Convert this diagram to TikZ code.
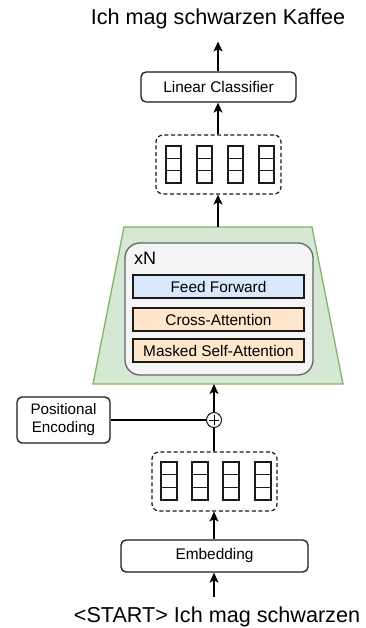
\documentclass[tikz,border=0pt]{standalone}
\usepackage{fontspec}
\setmainfont{Liberation Sans}
\usetikzlibrary{arrows.meta,shapes.geometric}
\definecolor{trapfill}{HTML}{D5E8D4}
\definecolor{trapline}{HTML}{82B366}
\definecolor{innerfill}{HTML}{F5F5F5}
\definecolor{innerline}{HTML}{666666}
\definecolor{bluefill}{HTML}{DAE8FC}
\definecolor{orangefill}{HTML}{FFE6CC}
\definecolor{boxline}{HTML}{1A1A1A}
\tikzset{
  rbox/.style={draw=boxline,line width=1.3pt,rounded corners=5pt,fill=white,inner sep=0pt,
    font=\fontsize{15.4}{18}\selectfont,align=center},
  layerbox/.style={draw=boxline,line width=1.3pt,inner sep=0pt,minimum width=171pt,minimum height=23pt,
    font=\fontsize{15.4}{18}\selectfont},
  dbox/.style={draw=boxline,line width=1.2pt,dash pattern=on 4pt off 2.6pt,rounded corners=7pt,
    minimum width=125pt,minimum height=59pt,inner sep=0pt},
  bigtext/.style={font=\fontsize{21.6}{24}\selectfont,inner sep=0pt},
  arr/.style={line width=1.3pt,-{Stealth[length=10pt,width=9pt,inset=2.5pt]}},
  ln/.style={line width=1.3pt},
  cell/.style={draw=boxline,line width=1.3pt}
}
\begin{document}
\begin{tikzpicture}[x=1pt,y=-1pt]
\useasboundingbox (0,0) rectangle (365,628);
% title
\node[bigtext] (out) at (218,19) {Ich mag schwarzen Kaffee};
% linear classifier
\node[rbox,minimum width=155pt,minimum height=30pt] (lin) at (218.5,87) {Linear Classifier};
\draw[arr] (lin.north -| 218,0) -- (218,41.5);
% upper dashed box
\node[dbox] (box1) at (218.5,164.5) {};
\foreach \xx in {166,197,228,259}{
  \foreach \k in {0,1,2}{
    \draw[cell] (\xx,146+12.33*\k) rectangle (\xx+15,146+12.33*\k+12.33);
  }
}
\draw[arr] (box1.north -| 218,0) -- (lin.south -| 218,0);
% trapezoid
\draw[fill=trapfill,draw=trapline,line width=1.3pt] (93,384) -- (124,227) -- (312,227) -- (343,384) -- cycle;
\coordinate (traptop) at (218,227);
\coordinate (trapbot) at (214,384);
\draw[arr] (traptop) -- (box1.south -| 218,0);
% inner block
\node[draw=innerline,fill=innerfill,line width=1.3pt,rounded corners=15pt,minimum width=188pt,minimum height=132pt,inner sep=0pt] (inner) at (219,309) {};
\node[font=\fontsize{18}{20}\selectfont,inner sep=0pt,anchor=west] (xn) at (134,258) {xN};
\node[layerbox,fill=bluefill] (ff) at (218.5,286.5) {Feed Forward};
\node[layerbox,fill=orangefill] (ca) at (218.5,319.5) {Cross-Attention};
\node[layerbox,fill=orangefill] (msa) at (218.5,350.5) {Masked Self-Attention};
% plus
\node[circle,draw=boxline,line width=1pt,minimum size=15pt,inner sep=0pt,fill=white] (plus) at (214,420) {};
\draw[line width=1pt] (plus.center) ++(-5,0) -- ++(10,0);
\draw[line width=1pt] (plus.center) ++(0,-5) -- ++(0,10);
\draw[arr] (plus.north) -- (trapbot);
% positional encoding
\node[rbox,minimum width=93pt,minimum height=46pt,font=\fontsize{15.2}{18}\selectfont] (pos) at (63.5,420) {Positional\\Encoding};
\draw[ln] (pos.east) -- (plus.west);
% lower dashed box
\node[dbox] (box2) at (214.5,481.5) {};
\foreach \xx in {161,192,223,255}{
  \foreach \k in {0,1,2}{
    \draw[cell] (\xx,462+12.67*\k) rectangle (\xx+16,462+12.67*\k+12.67);
  }
}
\draw[ln] (box2.north -| plus.south) -- (plus.south);
% embedding
\node[rbox,minimum width=187pt,minimum height=32pt] (emb) at (214.5,556) {Embedding};
\draw[arr] (emb.north -| 214,0) -- (box2.south -| 214,0);
\coordinate (inp) at (214,597);
\draw[arr] (inp) -- (emb.south -| 214,0);
\node[bigtext] (in) at (217,617) {<START> Ich mag schwarzen};
\end{tikzpicture}
\end{document}
